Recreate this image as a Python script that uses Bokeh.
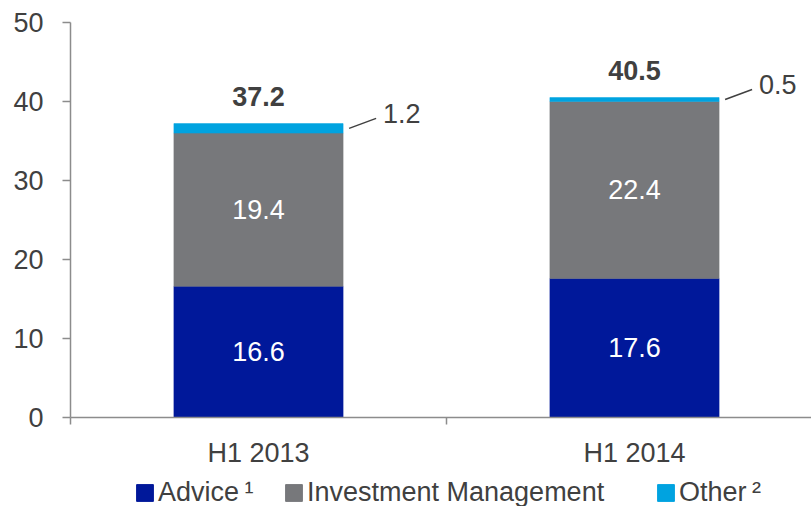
from bokeh.plotting import figure
from bokeh.layouts import column
from bokeh.models import ColumnDataSource, Range1d, FixedTicker, Legend, LegendItem
from bokeh.core.properties import value
from bokeh.embed import file_html
from bokeh.resources import INLINE

# ---- data ----
periods = ["H1 2013", "H1 2014"]
advice = [16.6, 17.6]
investment = [19.4, 22.4]
other = [1.2, 0.5]
totals = [37.2, 40.5]
series_names = ["Advice\u2009\u00b9", "Investment Management", "Other\u2009\u00b2"]
y_ticks = [0, 10, 20, 30, 40, 50]

# ---- style ----
colors = ["#00189A", "#77787B", "#00A3E0"]
FONT = "Liberation Sans"
TXT = "#404040"
AXIS = "#8C8C8C"
FS = "27px"

W, H = 811, 470
ML, MR, MT, MB = 70, 0, 22, 53
frame_w = W - ML - MR
frame_h = H - MT - MB
cat_px = 376.0
x_end = frame_w / cat_px
px_x = cat_px            # pixels per x unit
px_y = frame_h / 50.0    # pixels per y unit
BW = 0.45

p = figure(width=W, height=H, output_backend="svg", toolbar_location=None,
           x_range=Range1d(0, x_end), y_range=Range1d(0, 50),
           min_border_left=ML, min_border_right=MR, min_border_top=MT, min_border_bottom=MB,
           background_fill_color="white", border_fill_color="white")
p.outline_line_color = None
p.xgrid.visible = False
p.ygrid.visible = False

xs = [i + 0.5 for i in range(len(periods))]
src = ColumnDataSource(dict(
    x=xs,
    advice=advice, investment=investment, other=other, total=totals,
    adv_mid=[a / 2 for a in advice],
    inv_mid=[a + b / 2 for a, b in zip(advice, investment)],
    adv_txt=[f"{v:.1f}" for v in advice],
    inv_txt=[f"{v:.1f}" for v in investment],
    tot_txt=[f"{v:.1f}" for v in totals],
))

rs = p.vbar_stack(["advice", "investment", "other"], x="x", width=BW,
                  fill_color=colors, line_color=colors, line_width=0.5, source=src)

common = dict(text_font=value(FONT), text_font_size=FS, text_align="center",
              text_baseline="middle", source=src)
p.text(x="x", y="adv_mid", text="adv_txt", text_color="white", **common)
p.text(x="x", y="inv_mid", text="inv_txt", text_color="white", **common)
p.text(x="x", y="total", text="tot_txt", text_color=TXT, text_font_style="bold",
       y_offset=-27, **common)

# leader lines for "Other"
x0 = [x + BW / 2 + 6 / px_x for x in xs]
y0 = [a + b + c / 2 for a, b, c in zip(advice, investment, other)]
x1 = [v + 27 / px_x for v in x0]
y1 = [v + 10 / px_y for v in y0]
lsrc = ColumnDataSource(dict(x0=x0, y0=y0, x1=x1, y1=y1, tx=[v + 7 / px_x for v in x1],
                             txt=[f"{v:.1f}" for v in other]))
p.segment(x0="x0", y0="y0", x1="x1", y1="y1", line_color=TXT, line_width=1.5, source=lsrc)
p.text(x="tx", y="y1", text="txt", text_color=TXT, text_font=value(FONT), text_font_size=FS,
       text_align="left", text_baseline="middle", y_offset=-5, source=lsrc)

# ---- axes ----
ya = p.yaxis[0]
ya.ticker = FixedTicker(ticks=y_ticks)
ya.axis_line_color = AXIS
ya.axis_line_width = 1.5
ya.major_tick_line_color = AXIS
ya.major_tick_line_width = 1.5
ya.major_tick_out = 8
ya.major_tick_in = 0
ya.minor_tick_line_color = None
ya.major_label_text_font = FONT
ya.major_label_text_font_size = FS
ya.major_label_text_color = TXT
ya.major_label_standoff = 19

xa = p.xaxis[0]
xa.ticker = FixedTicker(ticks=xs, minor_ticks=list(range(len(periods) + 1)))
xa.major_label_overrides = {x: lab for x, lab in zip(xs, periods)}
xa.axis_line_color = AXIS
xa.axis_line_width = 1.5
xa.major_tick_out = 0
xa.major_tick_in = 0
xa.major_tick_line_color = None
xa.minor_tick_line_color = AXIS
xa.minor_tick_line_width = 1.5
xa.minor_tick_out = 7
xa.minor_tick_in = 0
xa.major_label_text_font = FONT
xa.major_label_text_font_size = FS
xa.major_label_text_color = TXT
xa.major_label_standoff = 13

# ---- legend strip (separate small figure, frame aligned with the chart) ----
LH = 36
p2 = figure(width=W, height=LH, output_backend="svg", toolbar_location=None,
            x_range=Range1d(0, 1), y_range=Range1d(0, 1),
            min_border_left=ML, min_border_right=MR, min_border_top=0, min_border_bottom=0,
            x_axis_type=None, y_axis_type=None,
            background_fill_color="white", border_fill_color="white")
p2.outline_line_color = None
p2.xgrid.visible = False
p2.ygrid.visible = False

leg_x = [136, 285, 657]   # swatch left edges (page px)
for c, name, lx in zip(colors, series_names, leg_x):
    r = p2.vbar(x=[0], top=[0], width=0, fill_color=c, line_color=c, visible=False)
    leg = Legend(items=[LegendItem(label=name, renderers=[r])], location=(lx - ML - 2, -2),
                 orientation="horizontal", padding=0, margin=0, spacing=0,
                 border_line_alpha=0, background_fill_alpha=0,
                 inactive_fill_alpha=0,
                 glyph_width=21, glyph_height=21, label_standoff=3,
                 label_text_font=FONT, label_text_font_size=FS, label_text_color=TXT)
    p2.add_layout(leg, "center")

layout = column(p, p2, spacing=0)
open("out.html", "w").write(file_html(layout, INLINE))
